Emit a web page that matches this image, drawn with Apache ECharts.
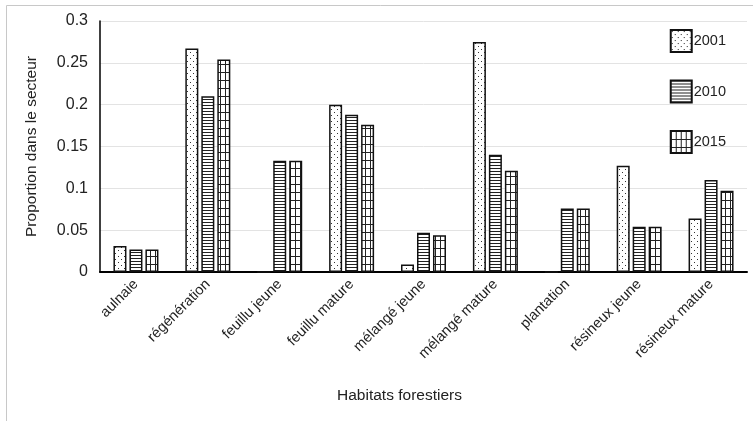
<!DOCTYPE html>
<html>
<head>
<meta charset="utf-8">
<script src="https://cdn.jsdelivr.net/npm/echarts@6/dist/echarts.min.js"></script>
<style>
html,body{margin:0;padding:0;background:#fff;}
#chart{width:753px;height:421px;}
</style>
</head>
<body>
<div id="chart"></div>
<script>
const categories = ['aulnaie','régénération','feuillu jeune','feuillu mature','mélangé jeune','mélangé mature','plantation','résineux jeune','résineux mature'];
const seriesNames = ['2001','2010','2015'];
const values2001 = [0.031, 0.267, 0, 0.200, 0.009, 0.275, 0, 0.127, 0.064];
const values2010 = [0.027, 0.210, 0.133, 0.188, 0.047, 0.140, 0.076, 0.054, 0.110];
const values2015 = [0.027, 0.254, 0.133, 0.176, 0.044, 0.121, 0.076, 0.054, 0.097];
const yTicks = [0, 0.05, 0.1, 0.15, 0.2, 0.25, 0.3];

function makePattern(w, h, draw) {
  const c = document.createElement('canvas');
  c.width = w; c.height = h;
  const ctx = c.getContext('2d');
  ctx.fillStyle = '#ffffff';
  ctx.fillRect(0, 0, w, h);
  draw(ctx);
  return { image: c, repeat: 'repeat' };
}
const dots = makePattern(6, 6, ctx => {
  ctx.fillStyle = '#333';
  ctx.fillRect(1, 1, 1, 1);
  ctx.fillRect(4, 4, 1, 1);
});
const hlines = makePattern(4, 3, ctx => {
  ctx.fillStyle = '#222';
  ctx.fillRect(0, 0, 4, 1);
});
const gridPat = makePattern(5, 8, ctx => {
  ctx.fillStyle = '#222';
  ctx.fillRect(0, 0, 5, 1);
  ctx.fillRect(0, 0, 1, 8);
});
const patterns = [dots, hlines, gridPat];
const allValues = [values2001, values2010, values2015];

const font = 'Liberation Sans, Arial, sans-serif';
const chart = echarts.init(document.getElementById('chart'), null, {renderer: 'canvas'});
chart.setOption({
  animation: false,
  backgroundColor: '#fff',
  textStyle: { fontFamily: font },
  graphic: [{
    type: 'rect', silent: true,
    shape: { x: 6.5, y: 5.5, width: 900, height: 600 },
    style: { fill: 'none', stroke: '#c8c8c8', lineWidth: 1 }
  }],
  grid: { left: 100, right: 6, top: 21, bottom: 149 },
  legend: {
    orient: 'vertical', right: 22, top: 24,
    icon: 'rect',
    itemWidth: 21, itemHeight: 22, itemGap: 26.5,
    textStyle: { fontSize: 14.5, color: '#222', fontFamily: font, padding: [0,0,0,-3] },
    data: seriesNames
  },
  xAxis: {
    type: 'category', data: categories,
    name: 'Habitats forestiers', nameLocation: 'middle', nameGap: 116,
    nameTextStyle: { fontSize: 15.5, color: '#222', fontFamily: font, padding: [0, 48, 0, 0] },
    axisLine: { lineStyle: { color: '#000', width: 2 } },
    axisTick: { show: false },
    axisLabel: { rotate: 45, fontSize: 14.5, color: '#222', margin: 10, interval: 0, fontFamily: font }
  },
  yAxis: {
    type: 'value', min: 0, max: 0.3, interval: 0.05,
    name: 'Proportion dans le secteur', nameLocation: 'middle', nameGap: 60,
    nameTextStyle: { fontSize: 15.5, color: '#222', fontFamily: font },
    axisLine: { show: true, lineStyle: { color: '#000', width: 1.5 } },
    axisTick: { show: false },
    axisLabel: { fontSize: 16, color: '#222', margin: 12, fontFamily: font,
      formatter: v => yTicks.includes(Math.round(v*100)/100) ? String(Math.round(v*100)/100) : '' },
    splitLine: { lineStyle: { color: '#e3e3e3', width: 1 } }
  },
  series: seriesNames.map((n, i) => ({
    name: n, type: 'bar', data: allValues[i],
    barWidth: 13, barGap: '23%',
    itemStyle: { color: patterns[i], borderColor: '#111', borderWidth: 1.5 }
  }))
});
</script>
</body>
</html>
